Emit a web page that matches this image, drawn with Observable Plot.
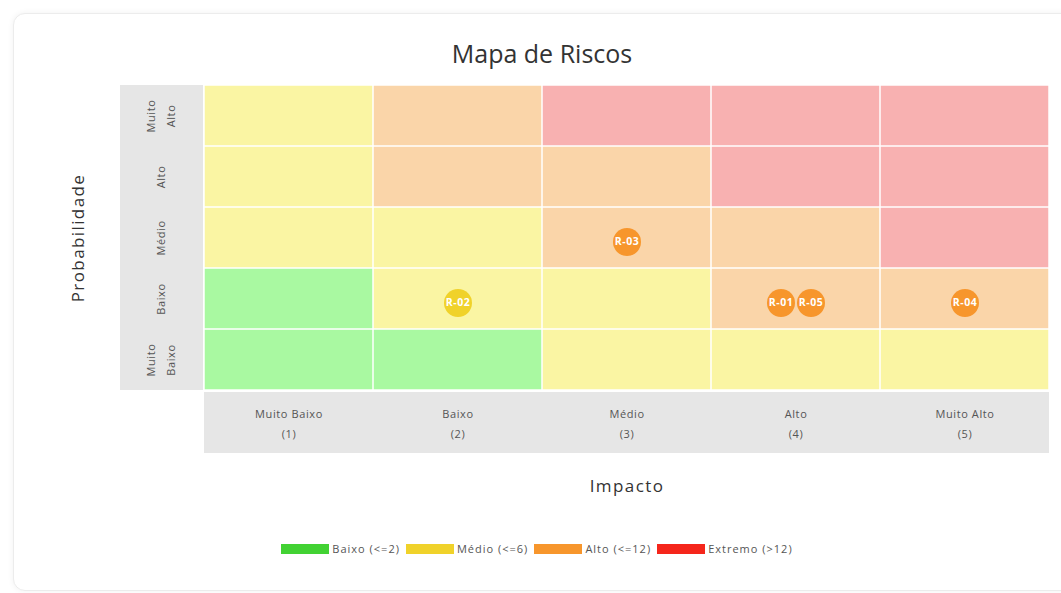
<!DOCTYPE html>
<html>
<head>
<meta charset="utf-8">
<script src="https://cdn.jsdelivr.net/npm/d3@7"></script>
<script src="https://cdn.jsdelivr.net/npm/@observablehq/plot@0.6"></script>
<style>
  html, body { margin: 0; padding: 0; background: #fff; width: 1061px; height: 593px; overflow: hidden; font-family: "Open Sans", sans-serif; }
  #card { position: absolute; left: 13px; top: 13px; width: 1070px; height: 576px; border: 1px solid #ececec; border-radius: 12px; box-shadow: 0 0 6px rgba(0,0,0,0.06); background: #fff; }
  #chart { position: absolute; left: 0; top: 0; }
  #title { position: absolute; left: 13px; width: 1058px; top: 36px; text-align: center; font-size: 25px; color: #333; line-height: 34px; }
  #legend { position: absolute; left: 0; width: 1080px; top: 532px; display: flex; justify-content: center; }
  .lg-swatch { margin-right: 6px !important; letter-spacing: 1px; }
  .lg-swatch > svg { margin-right: 3px !important; }
  .lg { font-family: "Open Sans", sans-serif !important; font-size: 11px !important; color: #555 !important; margin: 0 !important; }
</style>
</head>
<body>
<div id="card"></div>
<div id="chart"></div>
<div id="title">Mapa de Riscos</div>
<div id="legend"></div>
<script>
// ---- data ----
const impactKeys = [1, 2, 3, 4, 5];
const impactLabels = ["Muito Baixo\n(1)", "Baixo\n(2)", "Médio\n(3)", "Alto\n(4)", "Muito Alto\n(5)"];
const probKeys = [5, 4, 3, 2, 1]; // top to bottom
const probLabels = ["Muito\nAlto", "Alto", "Médio", "Baixo", "Muito\nBaixo"];

// cell risk level, rows = probability 5..1, cols = impact 1..5
const cellLevels = [
  ["Médio", "Alto",  "Extremo", "Extremo", "Extremo"],
  ["Médio", "Alto",  "Alto",    "Extremo", "Extremo"],
  ["Médio", "Médio", "Alto",    "Alto",    "Extremo"],
  ["Baixo", "Médio", "Médio",   "Alto",    "Alto"],
  ["Baixo", "Baixo", "Médio",   "Médio",   "Médio"]
];

const riskIds    = ["R-01", "R-02", "R-03", "R-04", "R-05"];
const riskImpact = [4, 2, 3, 5, 4];
const riskProb   = [2, 2, 3, 2, 2];

const levelNames   = ["Baixo", "Médio", "Alto", "Extremo"];
const legendLabels = ["Baixo (<=2)", "Médio (<=6)", "Alto (<=12)", "Extremo (>12)"];
const strongColors = ["#42D233", "#F0D22A", "#F7962C", "#F5261B"];
const lightColors  = ["#A9F9A1", "#FAF5A3", "#FAD5A9", "#F8B1B1"];

// ---- tables ----
const cells = [];
probKeys.forEach((p, r) => impactKeys.forEach((i, c) => {
  cells.push({impacto: i, prob: p, level: cellLevels[r][c]});
}));
const levelOf = (i, p) => cellLevels[probKeys.indexOf(p)][impactKeys.indexOf(i)];

const risks = riskIds.map((id, k) => ({id, impacto: riskImpact[k], prob: riskProb[k], level: levelOf(riskImpact[k], riskProb[k])}));
// slot offsets for risks sharing a cell
const groups = d3.group(risks, d => d.impacto + "-" + d.prob);
for (const g of groups.values()) g.forEach((d, i) => d.slot = (i - (g.length - 1) / 2) * 30);
const slots = Array.from(new Set(risks.map(d => d.slot)));

const bubbleMarks = slots.flatMap(s => {
  const data = risks.filter(d => d.slot === s);
  return [
    Plot.dot(data, {x: "impacto", y: "prob", r: 14, dx: s, dy: 4, fill: d => strongColors[levelNames.indexOf(d.level)], stroke: "none"}),
    Plot.text(data, {x: "impacto", y: "prob", text: "id", dx: s, dy: 4, fill: "white", fontWeight: "bold", fontSize: 10.5})
  ];
});

const chart = Plot.plot({
  width: 1061,
  height: 593,
  marginLeft: 204,
  marginRight: 12,
  marginTop: 85,
  marginBottom: 203,
  style: {fontFamily: "Open Sans, sans-serif", background: "transparent"},
  x: {type: "band", domain: impactKeys, padding: 0, axis: null},
  y: {type: "band", domain: probKeys, padding: 0, axis: null},
  marks: [
    Plot.cell(cells, {x: "impacto", y: "prob", fill: d => lightColors[levelNames.indexOf(d.level)], inset: 0.75}),
    Plot.text(impactKeys, {x: d => d, text: (d, i) => impactLabels[i], frameAnchor: "bottom", lineAnchor: "middle", dy: 31, lineHeight: 1.8, fontSize: 11, fill: "#555"}),
    Plot.text(probKeys, {y: d => d, text: (d, i) => probLabels[i], frameAnchor: "left", textAnchor: "middle", lineAnchor: "middle", dx: -46, rotate: -90, lineHeight: 1.8, fontSize: 11, fill: "#555"}),
    Plot.text(["Impacto"], {frameAnchor: "bottom", lineAnchor: "middle", dy: 96, fontSize: 17, fill: "#333", className: "axtitle"}),
    Plot.text(["Probabilidade"], {frameAnchor: "left", textAnchor: "middle", lineAnchor: "middle", dx: -126, rotate: -90, fontSize: 17, fill: "#333", className: "axtitle"}),
    ...bubbleMarks
  ]
});

// grey label bands derived from the scales
const sx = chart.scale("x"), sy = chart.scale("y");
const svg = d3.select(chart);
const bands = svg.insert("g", "g");
bands.append("rect")
  .attr("x", sx.range[0] - 84).attr("y", sy.range[0])
  .attr("width", 83).attr("height", sy.range[1] - sy.range[0])
  .attr("fill", "#E6E6E6");
bands.append("rect")
  .attr("x", sx.range[0]).attr("y", sy.range[1] + 2)
  .attr("width", sx.range[1] - sx.range[0]).attr("height", sy.bandwidth)
  .attr("fill", "#E6E6E6");

// letter spacing for the descriptive text
svg.selectAll("text").attr("letter-spacing", "0.6px");
svg.selectAll(".axtitle text").attr("letter-spacing", "1.4px");

document.getElementById("chart").appendChild(chart);

const legend = Plot.legend({
  color: {type: "ordinal", domain: legendLabels, range: strongColors},
  swatchWidth: 48, swatchHeight: 10,
  className: "lg",
  style: {fontFamily: "Open Sans, sans-serif", fontSize: "11px", color: "#555"}
});
document.getElementById("legend").appendChild(legend);
</script>
</body>
</html>
